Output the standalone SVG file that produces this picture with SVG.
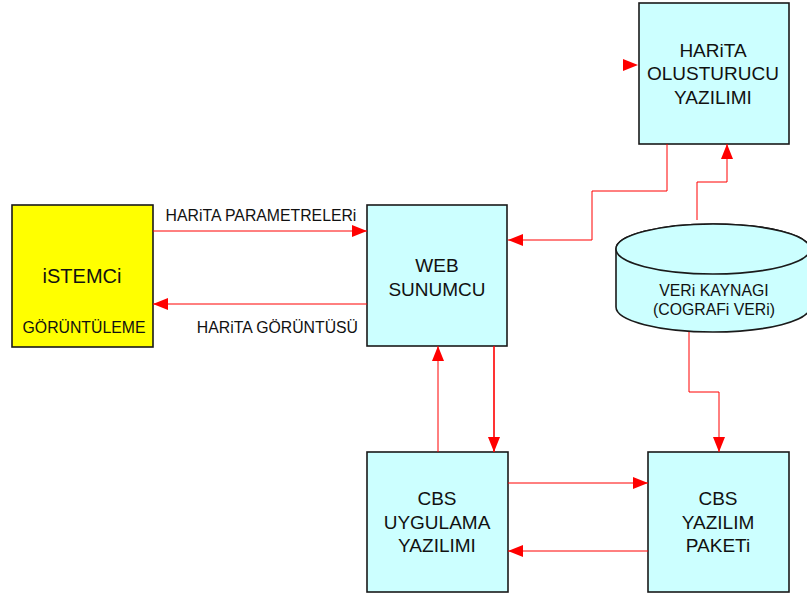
<svg xmlns="http://www.w3.org/2000/svg" width="807" height="599" viewBox="0 0 807 599">
<defs>
<marker id="ah" markerWidth="16" markerHeight="12" refX="15" refY="6" orient="auto" markerUnits="userSpaceOnUse">
<path d="M0,0 L15,6 L0,12 Z" fill="#ff0000"/>
</marker>
<style>
.box{stroke:#1a1a1a;stroke-width:1.6}
.cyan{fill:#ccffff}
.yel{fill:#ffff00}
.c{fill:none;stroke:#ff0000;stroke-width:1;marker-end:url(#ah)}
text{font-family:"Liberation Sans",Arial,sans-serif;fill:#111;text-anchor:middle}
.big{font-size:19px}
.sm{font-size:15.8px}
</style>
</defs>
<rect width="807" height="599" fill="#ffffff"/>
<g id="istemci">
<rect class="box yel" x="12" y="205" width="141" height="142"/>
<text class="big" x="82" y="283" style="font-size:20px">iSTEMCi</text>
<text class="sm" x="84" y="333">GÖRÜNTÜLEME</text>
</g>
<g id="web">
<rect class="box cyan" x="367" y="205" width="140" height="141"/>
<text class="big" x="437" y="272">WEB</text>
<text class="big" x="437" y="296">SUNUMCU</text>
</g>
<g id="harita">
<rect class="box cyan" x="639" y="3" width="150" height="141"/>
<text class="big" x="713" y="57">HARiTA</text>
<text class="big" x="713" y="80">OLUSTURUCU</text>
<text class="big" x="713" y="104">YAZILIMI</text>
</g>
<g id="veri">
<path class="box cyan" d="M616,249 L616,307 A97,25 0 0 0 810,307 L810,249 A97,25 0 0 0 616,249 Z"/>
<ellipse class="box cyan" cx="713" cy="249" rx="97" ry="25"/>
<text class="sm" x="714" y="296">VERi KAYNAGI</text>
<text class="sm" x="714" y="315">(COGRAFi VERi)</text>
</g>
<g id="cbsuyg">
<rect class="box cyan" x="367" y="452" width="141" height="140"/>
<text class="big" x="437" y="505">CBS</text>
<text class="big" x="437" y="529">UYGULAMA</text>
<text class="big" x="437" y="552">YAZILIMI</text>
</g>
<g id="cbsyaz">
<rect class="box cyan" x="648" y="452" width="141" height="140"/>
<text class="big" x="718" y="505">CBS</text>
<text class="big" x="718" y="529">YAZILIM</text>
<text class="big" x="718" y="552">PAKETi</text>
</g>
<g id="connectors">
<path class="c" d="M153,231 L367,231"/>
<path class="c" d="M367,304 L153,304"/>
<path class="c" d="M667,144 L667,191 L592,191 L592,240 L508,240"/>
<path class="c" d="M697,220 L697,182 L727,182 L727,144"/>
<path d="M623,59 L638,65 L623,71 Z" fill="#ff0000"/>
<path class="c" d="M438,452 L438,346"/>
<path class="c" d="M494,346 L494,452" style="stroke-width:1.6"/>
<path class="c" d="M689,332 L689,392 L719,392 L719,452"/>
<path class="c" d="M508,483 L648,483"/>
<path class="c" d="M648,551 L508,551"/>
</g>
<g id="labels">
<text class="sm" x="261" y="221">HARiTA PARAMETRELERi</text>
<text class="sm" x="358" y="333" style="text-anchor:end">HARiTA GÖRÜNTÜSÜ</text>
</g>
</svg>
